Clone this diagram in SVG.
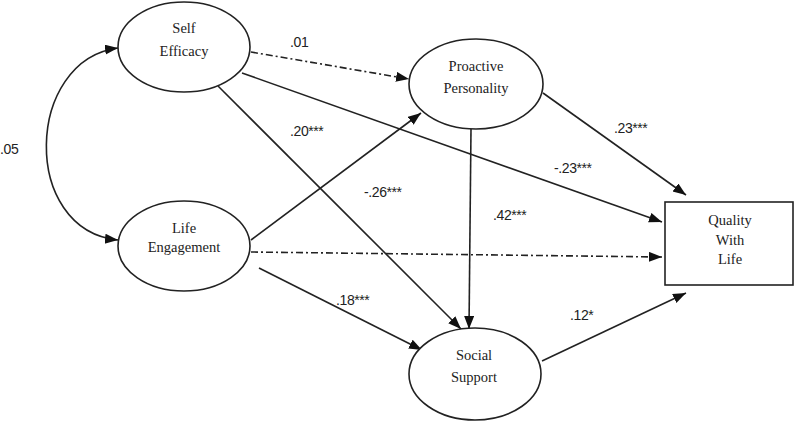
<svg xmlns="http://www.w3.org/2000/svg" width="794" height="422" viewBox="0 0 794 422">
<style>
.node{fill:#fff;stroke:#222;stroke-width:1.6}
.lbl{font-family:"Liberation Serif",serif;font-size:14.5px;fill:#222;text-anchor:middle}
.coef{font-family:"Liberation Sans",sans-serif;font-size:14px;fill:#222;letter-spacing:-0.4px}
.edge{fill:none;stroke:#222;stroke-width:1.6}
.dd{stroke-dasharray:7 3 2 3}
</style>
<defs>
<marker id="ah" markerUnits="userSpaceOnUse" markerWidth="14" markerHeight="12" refX="13" refY="5" orient="auto">
<path d="M0,0 L13,5 L0,10 Z" fill="#111"/>
</marker>
<marker id="ahs" markerUnits="userSpaceOnUse" markerWidth="14" markerHeight="12" refX="13" refY="5" orient="auto-start-reverse">
<path d="M0,0 L13,5 L0,10 Z" fill="#111"/>
</marker>
</defs>
<rect width="794" height="422" fill="#fff"/>
<g id="connectors">
<path class="edge" d="M118,48 C25,60 20,230 118,240" marker-start="url(#ahs)" marker-end="url(#ah)"/>
<line class="edge dd" x1="251" y1="52" x2="409" y2="79" marker-end="url(#ah)"/>
<line class="edge" x1="218" y1="86" x2="461" y2="329" marker-end="url(#ah)"/>
<line class="edge" x1="242" y1="73" x2="662" y2="222" marker-end="url(#ah)"/>
<line class="edge" x1="251" y1="240" x2="421" y2="113" marker-end="url(#ah)"/>
<line class="edge dd" x1="251" y1="252" x2="662" y2="257" marker-end="url(#ah)"/>
<line class="edge" x1="259" y1="268" x2="422" y2="350" marker-end="url(#ah)"/>
<line class="edge" x1="471" y1="129" x2="469" y2="329" marker-end="url(#ah)"/>
<line class="edge" x1="543" y1="93" x2="686" y2="195" marker-end="url(#ah)"/>
<line class="edge" x1="542" y1="361" x2="686" y2="293" marker-end="url(#ah)"/>
</g>
<g id="self-efficacy">
<ellipse class="node" cx="184" cy="47" rx="66" ry="45"/>
<text class="lbl" x="184" y="33">Self</text>
<text class="lbl" x="184" y="56">Efficacy</text>
</g>
<g id="life-engagement">
<ellipse class="node" cx="184" cy="246" rx="66" ry="45"/>
<text class="lbl" x="184" y="233">Life</text>
<text class="lbl" x="184" y="252">Engagement</text>
</g>
<g id="proactive-personality">
<ellipse class="node" cx="476" cy="84" rx="67" ry="45"/>
<text class="lbl" x="476" y="71">Proactive</text>
<text class="lbl" x="476" y="93">Personality</text>
</g>
<g id="social-support">
<ellipse class="node" cx="475" cy="374" rx="66" ry="46"/>
<text class="lbl" x="474" y="360">Social</text>
<text class="lbl" x="474" y="382">Support</text>
</g>
<g id="quality-with-life">
<rect class="node" x="665" y="202" width="128" height="83"/>
<text class="lbl" x="730" y="225">Quality</text>
<text class="lbl" x="730" y="245">With</text>
<text class="lbl" x="730" y="264">Life</text>
</g>
<g id="coefficients">
<text class="coef" x="290" y="47">.01</text>
<text class="coef" x="290" y="136">.20***</text>
<text class="coef" x="0" y="154">.05</text>
<text class="coef" x="364" y="197">-.26***</text>
<text class="coef" x="493" y="220">.42***</text>
<text class="coef" x="614" y="133">.23***</text>
<text class="coef" x="554" y="173">-.23***</text>
<text class="coef" x="336" y="305">.18***</text>
<text class="coef" x="570" y="320">.12*</text>
</g>
</svg>
